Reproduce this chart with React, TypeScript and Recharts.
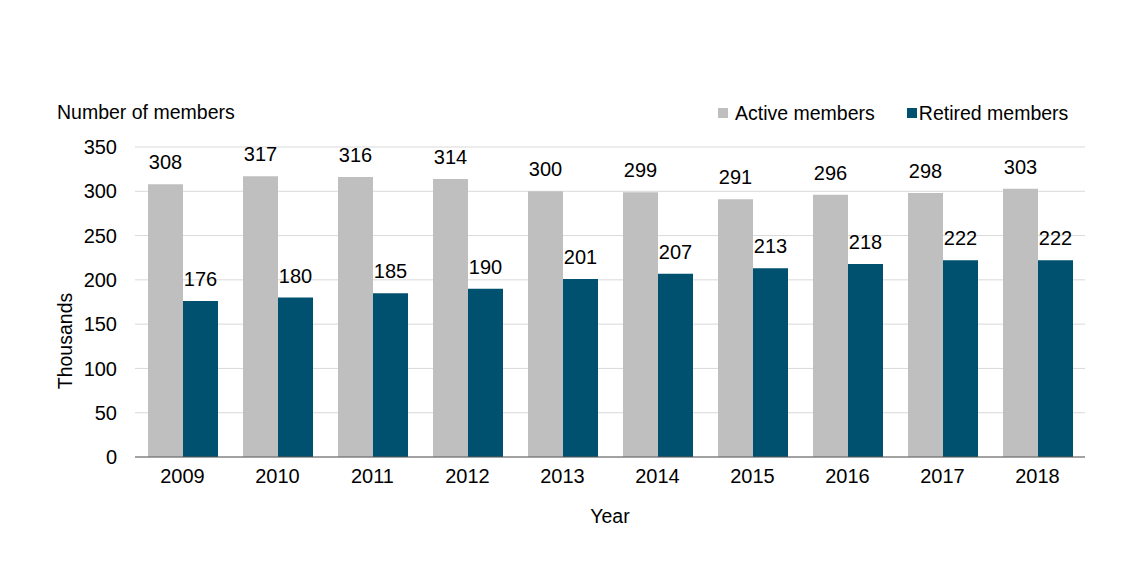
import React from "react";
import { BarChart, Bar, XAxis, YAxis, CartesianGrid, LabelList, Legend } from "recharts";

const years = ["2009", "2010", "2011", "2012", "2013", "2014", "2015", "2016", "2017", "2018"];
const activeMembers = [308, 317, 316, 314, 300, 299, 291, 296, 298, 303];
const retiredMembers = [176, 180, 185, 190, 201, 207, 213, 218, 222, 222];
const yTicks = [0, 50, 100, 150, 200, 250, 300, 350];

const GRAY = "#BFBFBF";
const BLUE = "#00506F";
const FONT = "'Liberation Sans', Arial, sans-serif";
const NUM = 20;
const TXT = 19.5;

const data = years.map((y, i) => ({ year: y, active: activeMembers[i], retired: retiredMembers[i] }));

const LegendContent = () => (
  <div style={{ display: "flex", alignItems: "center", fontFamily: FONT, fontSize: TXT, color: "#000", whiteSpace: "nowrap", height: 24 }}>
    <span style={{ display: "inline-block", width: 10, height: 10, background: GRAY, marginRight: 7 }} />
    <span style={{ marginRight: 32 }}>Active members</span>
    <span style={{ display: "inline-block", width: 10, height: 10, background: BLUE, marginRight: 2 }} />
    <span>Retired members</span>
  </div>
);

export default function App() {
  return (
    <div style={{ position: "relative", width: 1140, height: 570, fontFamily: FONT }}>
      <style>{`body{margin:0}`}</style>
      <div style={{ position: "absolute", left: 57, top: 101, fontSize: TXT, color: "#000", whiteSpace: "nowrap", lineHeight: "22px" }}>
        Number of members
      </div>
      <div
        style={{
          position: "absolute",
          left: 65,
          top: 341,
          fontSize: TXT,
          color: "#000",
          whiteSpace: "nowrap",
          lineHeight: "22px",
          transform: "translate(-50%, -50%) rotate(-90deg)",
        }}
      >
        Thousands
      </div>
      <BarChart
        width={1140}
        height={570}
        data={data}
        margin={{ top: 123, right: 55, bottom: 0, left: 0 }}
        barCategoryGap={13}
        barGap={0}
      >
        <CartesianGrid vertical={false} stroke="#D9D9D9" />
        <XAxis
          dataKey="year"
          height={113}
          tickLine={false}
          tickSize={0}
          tickMargin={12}
          axisLine={{ stroke: "#595959" }}
          tick={{ fill: "#000", fontSize: NUM, fontFamily: FONT }}
          label={{ value: "Year", position: "insideBottom", offset: 47, fill: "#000", fontSize: TXT, fontFamily: FONT }}
        />
        <YAxis
          width={135}
          domain={[0, 350]}
          ticks={yTicks}
          interval={0}
          tickLine={false}
          tickSize={0}
          tickMargin={18}
          axisLine={false}
          tick={{ fill: "#000", fontSize: NUM, fontFamily: FONT }}
        />
        <Legend
          layout="horizontal"
          verticalAlign="top"
          align="right"
          content={<LegendContent />}
          wrapperStyle={{ top: 101, left: 718, width: 400, height: 24 }}
        />
        <Bar dataKey="active" name="Active members" fill={GRAY} isAnimationActive={false}>
          <LabelList dataKey="active" position="top" offset={15} fill="#000" fontSize={NUM} fontFamily={FONT} />
        </Bar>
        <Bar dataKey="retired" name="Retired members" fill={BLUE} isAnimationActive={false}>
          <LabelList dataKey="retired" position="top" offset={15} fill="#000" fontSize={NUM} fontFamily={FONT} />
        </Bar>
      </BarChart>
    </div>
  );
}
